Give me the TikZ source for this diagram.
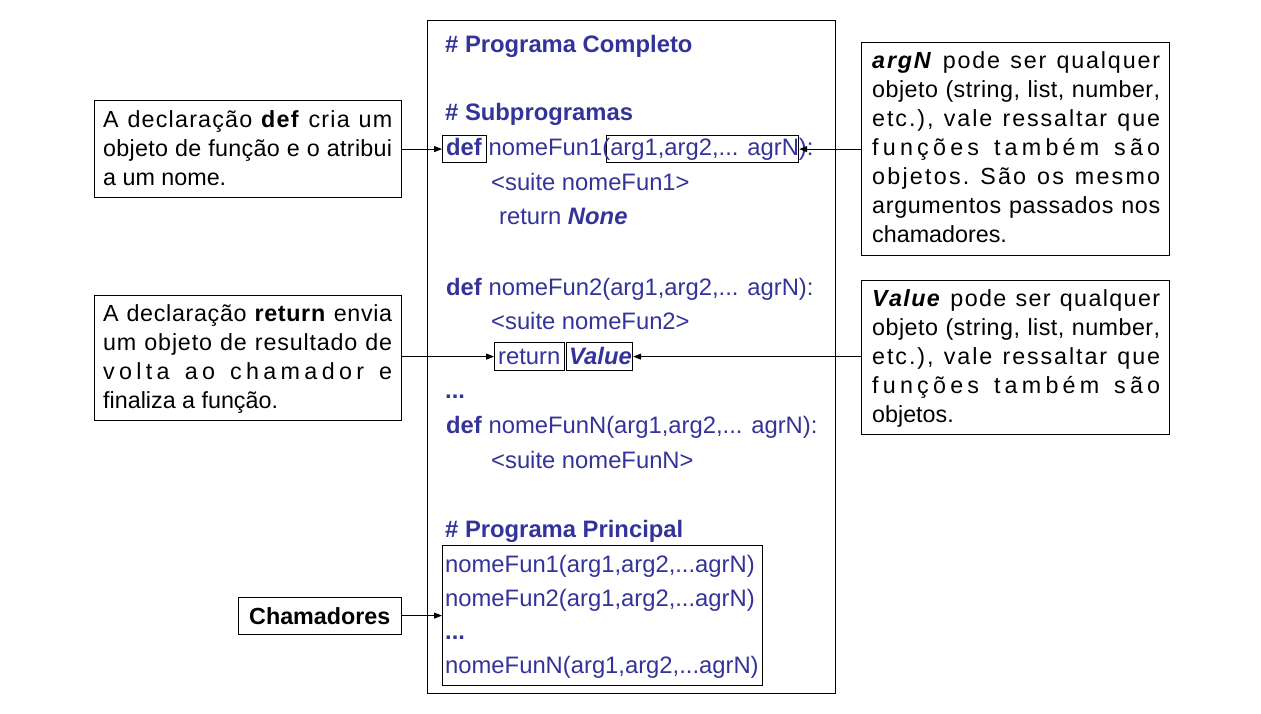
\documentclass[tikz,border=0pt]{standalone}
\usepackage{fontspec}
\setmainfont{Liberation Sans}
\usetikzlibrary{arrows.meta}
\definecolor{codeblue}{RGB}{51,51,153}

% distributed justification: equal extra space after every character
\makeatletter
\newlength\jw
\def\lsend{\lsend}
\def\lsB{\lsB}
\def\ls{\futurelet\next\lsA}
\def\lsA{%
  \ifx\next\lsend \let\go\lsStop
  \else\ifx\next\@sptoken \let\go\lsSpace
  \else\ifx\next\lsB \let\go\lsSwitch
  \else \let\go\lsChar\fi\fi\fi\go}
\def\lsStop#1{\unskip}
\def\lsChar#1{#1\hfil\ls}
\def\lsSwitch#1#2{#2\ls}
\def\lsSpace{\ \hfil\afterassignment\ls\let\next= }
\newcommand\jline[1]{\hbox to \jw{\ls#1\lsend}}
\makeatother
\newcommand\bi[1]{\textbf{\textit{#1}}}

\tikzset{
  frame/.style={draw, line width=1.2pt, inner sep=0pt, anchor=north west},
  code/.style={anchor=base west, inner sep=0pt, text=codeblue, font=\fontsize{23.8}{24}\selectfont},
  note/.style={anchor=base west, inner sep=0pt, font=\fontsize{23.3}{24}\selectfont},
  arr/.style={-{Triangle[length=8pt,width=6pt]}, line width=1pt}
}
\begin{document}
\begin{tikzpicture}[x=1pt,y=-1pt]
\useasboundingbox (0,0) rectangle (1261,714);

% outer program frame
\node[frame, minimum width=408, minimum height=673] (prog) at (427,20) {};

% highlight frames inside the program
\node[frame, minimum width=44,  minimum height=27]  (defbox) at (442,135) {};
\node[frame, minimum width=192, minimum height=27]  (argbox) at (606,135) {};
\node[frame, minimum width=70,  minimum height=28]  (retbox) at (494,342) {};
\node[frame, minimum width=66,  minimum height=28]  (valbox) at (566,342) {};
\node[frame, minimum width=320, minimum height=140] (calls)  at (442,545) {};

% program text
\node[code] (t1)  at (445,53)  {\textbf{\# Programa Completo}};
\node[code] (t2)  at (445,121) {\textbf{\# Subprogramas}};
\node[code] (t3)  at (446,156) {\textbf{def} nomeFun1(arg1,arg2,... agrN):};
\node[code] (t4)  at (491,191) {<suite nomeFun1>};
\node[code] (t5)  at (499,225) {return \bi{None}};
\node[code] (t6)  at (446,295) {\textbf{def} nomeFun2(arg1,arg2,... agrN):};
\node[code] (t7)  at (491,329) {<suite nomeFun2>};
\node[code] (t8)  at (498,364) {return};
\node[code] (t9)  at (569,364) {\bi{Value}};
\node[code] (t10) at (445,398) {\textbf{...}};
\node[code] (t11) at (446,433) {\textbf{def} nomeFunN(arg1,arg2,... agrN):};
\node[code] (t12) at (491,468) {<suite nomeFunN>};
\node[code] (t13) at (445,537) {\textbf{\# Programa Principal}};
\node[code] (t14) at (445,572) {nomeFun1(arg1,arg2,...agrN)};
\node[code] (t15) at (445,606) {nomeFun2(arg1,arg2,...agrN)};
\node[code] (t16) at (445,639) {\textbf{...}};
\node[code] (t17) at (445,673) {nomeFunN(arg1,arg2,...agrN)};

% left notes
\node[frame, minimum width=307, minimum height=97]  (ldef) at (94,100) {};
\node[frame, minimum width=307, minimum height=125] (lret) at (94,295) {};
\node[frame, minimum width=163, minimum height=37]  (lcal) at (238,597) {};

\setlength\jw{289pt}
\node[note] (l1) at (103,128) {\jline{A declaração \lsB\bfseries def\lsB\mdseries{} cria um}};
\node[note] (l2) at (103,157) {\jline{objeto de função e o atribui}};
\node[note] (l3) at (103,186) {a um nome.};

\node[note] (l4) at (103,321) {\jline{A declaração \lsB\bfseries return\lsB\mdseries{} envia}};
\node[note] (l5) at (103,350) {\jline{um objeto de resultado de}};
\node[note] (l6) at (103,379) {\jline{volta ao chamador e}};
\node[note] (l7) at (103,408) {finaliza a função.};

\node[note] (l8) at (249,624) {\textbf{Chamadores}};

% right notes
\node[frame, minimum width=308, minimum height=213] (rarg) at (861,42) {};
\node[frame, minimum width=308, minimum height=154] (rval) at (861,280) {};

\setlength\jw{288pt}
\node[note] (r1) at (872,69)  {\jline{\lsB\bfseries\lsB\itshape argN\lsB\mdseries\lsB\upshape{} pode ser qualquer}};
\node[note] (r2) at (872,98)  {\jline{objeto (string, list, number,}};
\node[note] (r3) at (872,127) {\jline{etc.), vale ressaltar que}};
\node[note] (r4) at (872,156) {\jline{funções também são}};
\node[note] (r5) at (872,185) {\jline{objetos. São os mesmo}};
\node[note] (r6) at (872,214) {\jline{argumentos passados nos}};
\node[note] (r7) at (872,243) {chamadores.};

\node[note] (r8)  at (872,306) {\jline{\lsB\bfseries\lsB\itshape Value\lsB\mdseries\lsB\upshape{} pode ser qualquer}};
\node[note] (r9)  at (872,335) {\jline{objeto (string, list, number,}};
\node[note] (r10) at (872,364) {\jline{etc.), vale ressaltar que}};
\node[note] (r11) at (872,393) {\jline{funções também são}};
\node[note] (r12) at (872,422) {objetos.};

% connectors
\draw[arr] (ldef.east |- defbox.west) -- (defbox.west);
\draw[arr] (rarg.west |- argbox.east) -- (argbox.east);
\draw[arr] (lret.east |- retbox.west) -- (retbox.west);
\draw[arr] (rval.west |- valbox.east) -- (valbox.east);
\draw[arr] (lcal.east |- calls.west) -- (calls.west);
\end{tikzpicture}
\end{document}
